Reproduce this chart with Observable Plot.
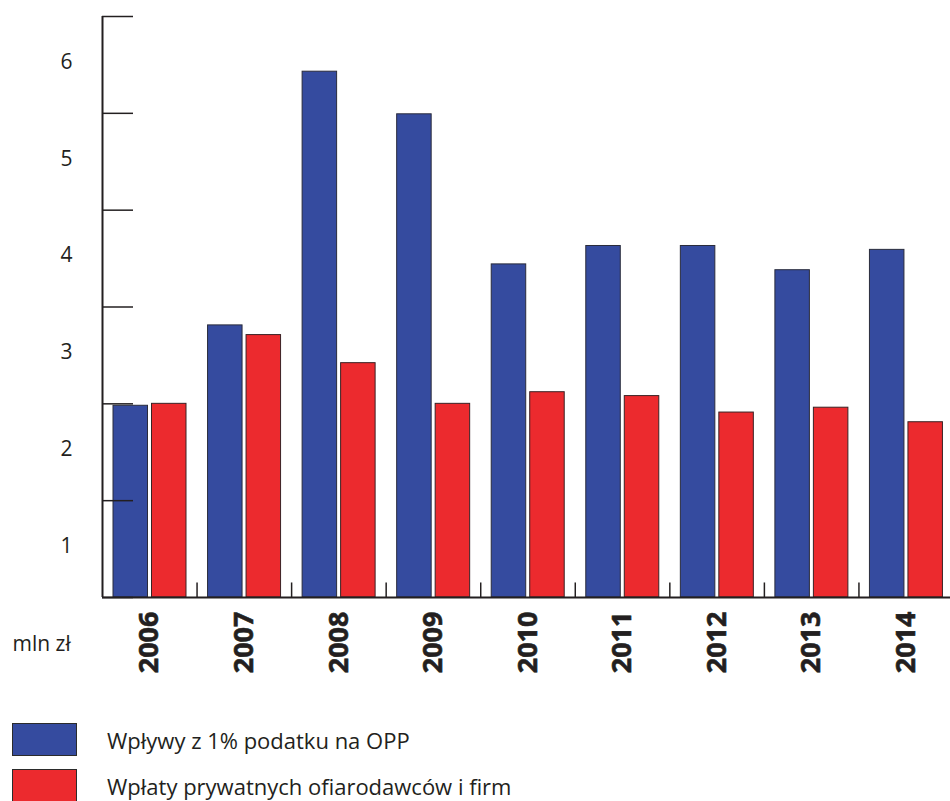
<!DOCTYPE html>
<html>
<head>
<meta charset="utf-8">
<script src="https://cdn.jsdelivr.net/npm/d3@7"></script>
<script src="https://cdn.jsdelivr.net/npm/@observablehq/plot@0.6"></script>
<style>
  body { margin: 0; background: #fff; font-family: "Open Sans", sans-serif; color: #231f20; }
  #chart svg { display: block; }
  .legend { position: relative; height: 101px; }
  .item { position: absolute; left: 12px; display: flex; align-items: center; }
  .sw { width: 65px; height: 33px; border: 1px solid #2b2b2b; box-sizing: border-box; }
  .lab { margin-left: 30px; font-size: 22px; }
</style>
</head>
<body>
<div id="chart"></div>
<div class="legend" id="legend"></div>
<script>
const years = ["2006", "2007", "2008", "2009", "2010", "2011", "2012", "2013", "2014"];
const wplywy1proc = [1.98, 2.81, 5.43, 4.99, 3.44, 3.63, 3.63, 3.38, 3.59];
const wplatyPrywatne = [2.00, 2.71, 2.42, 2.00, 2.12, 2.08, 1.91, 1.96, 1.81];
const yTicks = [0, 1, 2, 3, 4, 5, 6];
const yLabels = [1, 2, 3, 4, 5, 6];
const seriesNames = ["Wpływy z 1% podatku na OPP", "Wpłaty prywatnych ofiarodawców i firm"];
const unitLabel = "mln zł";

const blue = "#354b9f";
const red = "#ec2a2e";
const ink = "#231f20";

const W = 950, H = 700, ML = 102, MR = -3, MT = 16, MB = 103;
const bw = (W - ML - MR) / years.length;

const blueData = years.map((y, i) => ({year: y, value: wplywy1proc[i]}));
const redData = years.map((y, i) => ({year: y, value: wplatyPrywatne[i]}));

const chart = Plot.plot({
  width: W, height: H,
  marginLeft: ML, marginRight: MR, marginTop: MT, marginBottom: MB,
  style: {fontFamily: "'Open Sans', sans-serif", color: ink, background: "#fff"},
  x: {type: "band", domain: years, paddingInner: 0, paddingOuter: 0, round: false, axis: null},
  y: {domain: [0, 6], axis: null},
  marks: [
    Plot.barY(blueData, {x: "year", y: "value", fill: blue, stroke: "#2a2c3c", strokeWidth: 1, insetLeft: 11, insetRight: bw - 45.5}),
    Plot.barY(redData, {x: "year", y: "value", fill: red, stroke: "#3a2224", strokeWidth: 1, insetLeft: 49.5, insetRight: bw - 84}),
    Plot.ruleY([0], {stroke: ink, strokeWidth: 2}),
    Plot.ruleX([years[0]], {y1: 0, y2: 6, dx: -bw / 2, stroke: ink, strokeWidth: 2}),
    Plot.tickY(yTicks, {x: () => years[0], y: d => d, insetRight: bw - 31, stroke: ink, strokeWidth: 1.5}),
    Plot.text(yLabels, {y: d => d - 0.47, text: d => String(d), frameAnchor: "left", dx: -36, textAnchor: "middle", fontSize: 21, fill: ink}),
    Plot.ruleX(years.slice(1), {x: d => d, y1: 0, y2: 0.15, dx: -bw / 2, stroke: ink, strokeWidth: 1.5}),
    Plot.text(years, {x: d => d, y: 0, text: d => d, rotate: -90, textAnchor: "end", dy: 14, fontSize: 27, fontWeight: "bold", fill: ink, stroke: ink, strokeWidth: 0.6}),
    Plot.text([unitLabel], {frameAnchor: "bottom-left", text: d => d, textAnchor: "start", dx: 12 - ML, dy: 53, fontSize: 21, fill: ink})
  ]
});
document.getElementById("chart").appendChild(chart);

const legend = document.getElementById("legend");
const colors = [blue, red];
const tops = [23, 69];
seriesNames.forEach((name, i) => {
  const item = document.createElement("div");
  item.className = "item";
  item.style.top = tops[i] + "px";
  const sw = document.createElement("div");
  sw.className = "sw";
  sw.style.background = colors[i];
  const lab = document.createElement("span");
  lab.className = "lab";
  lab.textContent = name;
  item.appendChild(sw);
  item.appendChild(lab);
  legend.appendChild(item);
});
</script>
</body>
</html>
